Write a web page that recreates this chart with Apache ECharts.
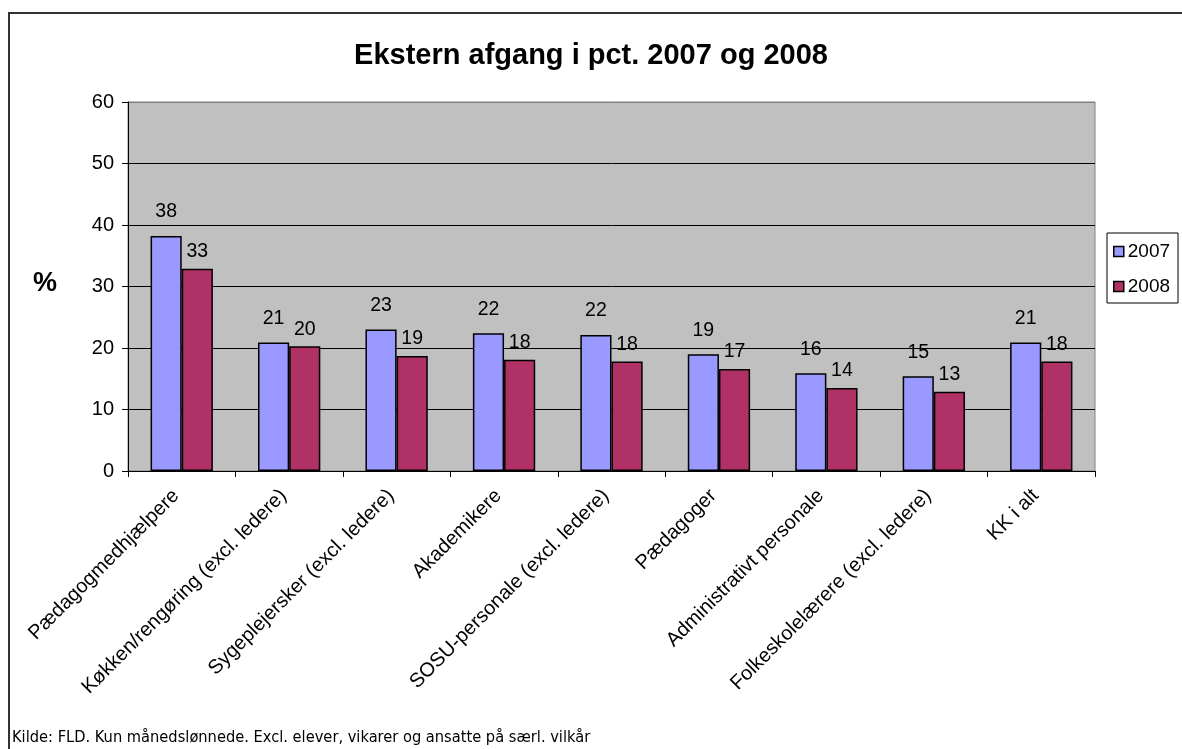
<!DOCTYPE html>
<html>
<head>
<meta charset="utf-8">
<script src="https://cdn.jsdelivr.net/npm/echarts@6/dist/echarts.min.js"></script>
<style>
  html, body { margin: 0; padding: 0; background: #fff; }
  #chart { width: 1182px; height: 749px; }
</style>
</head>
<body>
<div id="chart"></div>
<script>
// Job groups on the category axis
const categories = [
  'Pædagogmedhjælpere',
  'Køkken/rengøring (excl. ledere)',
  'Sygeplejersker (excl. ledere)',
  'Akademikere',
  'SOSU-personale (excl. ledere)',
  'Pædagoger',
  'Administrativt personale',
  'Folkeskolelærere (excl. ledere)',
  'KK i alt'
];

// External turnover in percent
const values2007 = [38.2, 20.9, 23.0, 22.4, 22.1, 19.0, 15.9, 15.4, 20.9];
const values2008 = [32.9, 20.3, 18.7, 18.1, 17.8, 16.6, 13.5, 12.9, 17.8];

const seriesNames = ['2007', '2008'];
const yTicks = { min: 0, max: 60, interval: 10 };

const chart = echarts.init(document.getElementById('chart'));
const font = 'Liberation Sans, Arial, sans-serif';

function valueLabel(distance) {
  return {
    show: true,
    position: 'top',
    distance: distance,
    color: '#000',
    fontFamily: font,
    fontSize: 19.5,
    formatter: p => Math.round(p.value)
  };
}

// gridlines are black; the top edge of the plot frame stays grey
const gridLineColors = ['#000', '#000', '#000', '#000', '#000', '#000', '#808080'];

chart.setOption({
  animation: false,
  title: {
    text: 'Ekstern afgang i pct. 2007 og 2008',
    left: 'center',
    top: 36,
    textStyle: { fontFamily: font, fontSize: 29, fontWeight: 'bold', color: '#000' }
  },
  legend: {
    orient: 'vertical',
    left: 1107,
    top: 233,
    data: seriesNames,
    icon: 'rect',
    itemWidth: 10,
    itemHeight: 10,
    itemGap: 16,
    itemStyle: { borderColor: '#000', borderWidth: 1.5 },
    padding: [9, 8, 7, 6],
    borderColor: '#000',
    borderWidth: 1,
    backgroundColor: '#fff',
    textStyle: { fontFamily: font, fontSize: 19, color: '#000', padding: [0, 0, 0, -1] }
  },
  grid: {
    left: 128, right: 87, top: 102, bottom: 278,
    show: true,
    backgroundColor: '#c0c0c0',
    borderColor: '#808080',
    borderWidth: 1
  },
  xAxis: {
    type: 'category',
    data: categories,
    axisLine: { lineStyle: { color: '#000', width: 1 } },
    axisTick: { show: true, length: 6, lineStyle: { color: '#000' } },
    axisLabel: {
      interval: 0,
      rotate: 45,
      margin: 16,
      padding: [0, 8, 0, 0],
      color: '#000',
      fontFamily: font,
      fontSize: 20
    }
  },
  yAxis: {
    type: 'value',
    min: yTicks.min,
    max: yTicks.max,
    interval: yTicks.interval,
    axisLine: { show: true, lineStyle: { color: '#000', width: 1 } },
    axisTick: { show: true, length: 6, lineStyle: { color: '#000' } },
    axisLabel: { margin: 14, color: '#000', fontFamily: font, fontSize: 20 },
    splitLine: { show: true, lineStyle: { color: gridLineColors, width: 1 } }
  },
  graphic: [
    {
      type: 'rect',
      shape: { x: 9, y: 13, width: 1200, height: 760 },
      style: { fill: 'none', stroke: '#333', lineWidth: 2 },
      silent: true
    },
    {
      type: 'text',
      left: 33,
      top: 270,
      style: { text: '%', fontFamily: font, fontSize: 27, fontWeight: 'bold', fill: '#000' }
    },
    {
      type: 'text',
      left: 12,
      top: 730,
      style: {
        text: 'Kilde: FLD. Kun månedslønnede. Excl. elever, vikarer og ansatte på særl. vilkår',
        fontFamily: 'DejaVu Sans Condensed, DejaVu Sans, sans-serif',
        fontSize: 16.3,
        fill: '#000'
      }
    }
  ],
  series: [
    {
      name: seriesNames[0],
      type: 'bar',
      data: values2007,
      barGap: '0%',
      barCategoryGap: '42%',
      itemStyle: { color: '#9999ff', borderColor: '#000', borderWidth: 1.5 },
      label: valueLabel(14)
    },
    {
      name: seriesNames[1],
      type: 'bar',
      data: values2008,
      itemStyle: { color: '#b03166', borderColor: '#000', borderWidth: 1.5 },
      label: valueLabel(7)
    }
  ]
});
</script>
</body>
</html>
